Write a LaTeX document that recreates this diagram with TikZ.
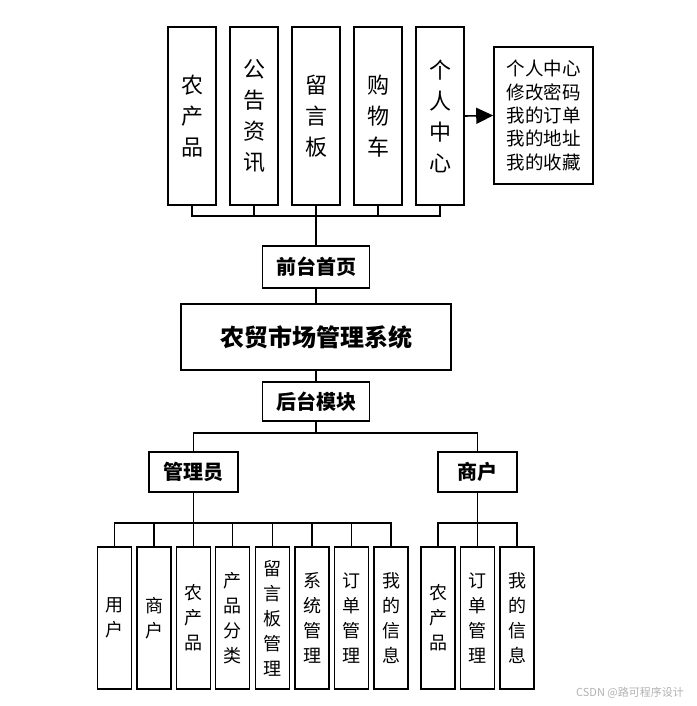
\documentclass[tikz,border=0pt]{standalone}
\usepackage{fontspec}
\setmainfont{Noto Sans CJK SC}
\usetikzlibrary{arrows.meta}

\begin{document}
\begin{tikzpicture}
[
	x=1pt,y=-1pt,
	line width=1.6pt,
	box/.style={draw,rectangle,inner sep=0pt,align=center},
	topbox/.style={box,minimum width=48pt,minimum height=178pt,font=\fontsize{22}{31}\selectfont},
	leafbox/.style={box,minimum width=34pt,minimum height=142pt,font=\fontsize{18}{25}\selectfont},
	headbox/.style={box,minimum height=40pt,font=\fontsize{20}{24}\selectfont\bfseries}
]
	\useasboundingbox (0,0) rectangle (696,706);

	% front end
	\node[topbox] at (192,116) (t1) {农\\产\\品};
	\node[topbox] at (254,116) (t2) {公\\告\\资\\讯};
	\node[topbox] at (316,116) (t3) {留\\言\\板};
	\node[topbox] at (378,116) (t4) {购\\物\\车};
	\node[topbox] at (440,116) (t5) {个\\人\\中\\心};
	\node[box,minimum width=99pt,minimum height=137pt,font=\fontsize{18.5}{23.3}\selectfont] at (543.5,115.5) (info) {个人中心\\修改密码\\我的订单\\我的地址\\我的收藏};
	\draw[-{Triangle[length=17pt,width=16pt]}] (t5.east) -- (info.west);

	\node[headbox,minimum width=107pt,minimum height=42pt] at (316,267) (qt) {前台首页};
	\node[box,minimum width=270pt,minimum height=66pt,font=\fontsize{24}{28}\selectfont\bfseries] at (316,337) (sys) {农贸市场管理系统};
	\node[headbox,minimum width=107pt,minimum height=39pt] at (316,401.5) (ht) {后台模块};

	\coordinate (topbus) at (316,216);
	\draw (t1.south) |- (topbus);
	\draw (t2.south) |- (topbus);
	\draw (t3.south) |- (topbus);
	\draw (t4.south) |- (topbus);
	\draw (t5.south) |- (topbus);
	\draw (qt.north) -- (topbus);
	\draw (qt.south) -- (sys.north);
	\draw (sys.south) -- (ht.north);

	% back end
	\node[headbox,minimum width=89pt] at (193.5,472) (gly) {管理员};
	\node[headbox,minimum width=79pt] at (477.5,472) (sh) {商户};
	\coordinate (midbus) at (316,433);
	\draw (ht.south) -- (midbus);
	\draw (gly.north) |- (midbus);
	\draw (sh.north) |- (midbus);

	\node[leafbox] at (114.5,618) (a1) {用\\户};
	\node[leafbox] at (154,618) (a2) {商\\户};
	\node[leafbox] at (193.5,618) (a3) {农\\产\\品};
	\node[leafbox] at (232.5,618) (a4) {产\\品\\分\\类};
	\node[leafbox] at (272.5,618) (a5) {留\\言\\板\\管\\理};
	\node[leafbox] at (312,618) (a6) {系\\统\\管\\理};
	\node[leafbox] at (351.5,618) (a7) {订\\单\\管\\理};
	\node[leafbox] at (391,618) (a8) {我\\的\\信\\息};
	\coordinate (glybus) at (193.5,523);
	\draw (gly.south) -- (glybus);
	\draw (a1.north) |- (glybus);
	\draw (a2.north) |- (glybus);
	\draw (a3.north) |- (glybus);
	\draw (a4.north) |- (glybus);
	\draw (a5.north) |- (glybus);
	\draw (a6.north) |- (glybus);
	\draw (a7.north) |- (glybus);
	\draw (a8.north) |- (glybus);

	\node[leafbox] at (438,618) (s1) {农\\产\\品};
	\node[leafbox] at (477.5,618) (s2) {订\\单\\管\\理};
	\node[leafbox] at (517,618) (s3) {我\\的\\信\\息};
	\coordinate (shbus) at (477.5,523);
	\draw (sh.south) -- (shbus);
	\draw (s1.north) |- (shbus);
	\draw (s2.north) -- (shbus);
	\draw (s3.north) |- (shbus);

	% watermark
	\node[text=black!30,font=\fontsize{11}{13}\selectfont,anchor=east] at (688,693) (wm) {CSDN @路可程序设计};

\end{tikzpicture}
\end{document}
